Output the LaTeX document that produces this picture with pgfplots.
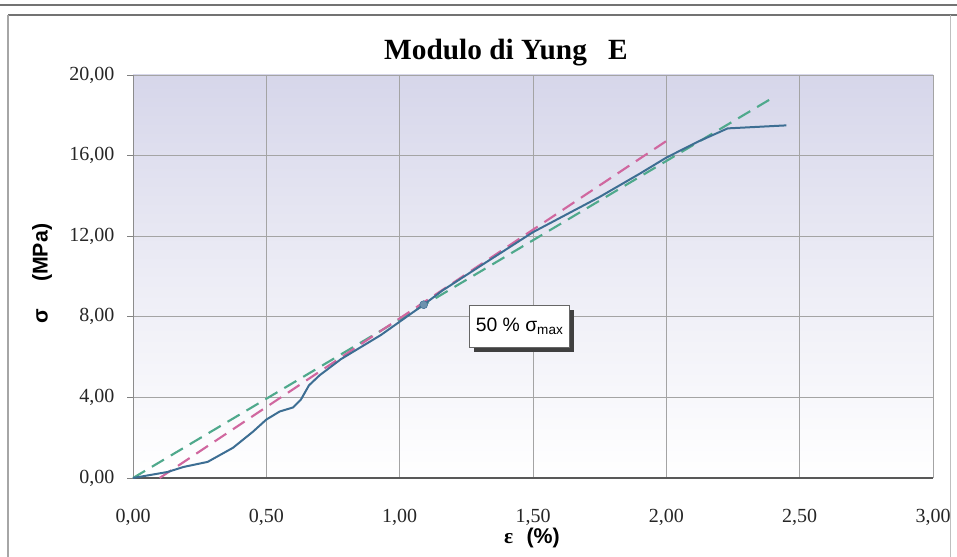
\documentclass[border=0pt]{standalone}
\usepackage{fontspec}
\setmainfont{Liberation Serif}
\newfontfamily\arial{Liberation Sans}
\usepackage{pgfplots}
\pgfplotsset{compat=1.18}
\usetikzlibrary{shadows}
\definecolor{curveblue}{HTML}{3D6E93}
\definecolor{dgreen}{HTML}{4FA98C}
\definecolor{dpink}{HTML}{D0679F}
\definecolor{bgtop}{HTML}{D6D6EA}
\definecolor{gridc}{HTML}{A4A4A4}
\begin{document}
\begin{tikzpicture}
\useasboundingbox (0,0) rectangle (717.75pt,417.75pt);
\fill[white] (0,0) rectangle (717.75pt,417.75pt);
\draw[black!55, line width=0.8pt] (0,414pt) -- (717.75pt,414pt);
\draw[black!55, line width=0.8pt] (6pt,406.5pt) -- (717.75pt,406.5pt);
\draw[black!35, line width=0.8pt] (6pt,406.5pt) -- (6pt,0);
\draw[black!25, line width=0.6pt] (712.5pt,406.5pt) -- (712.5pt,0);
\begin{axis}[
  at={(99.75pt,59.25pt)}, anchor=south west,
  scale only axis, width=600pt, height=302.25pt,
  xmin=0, xmax=3, ymin=0, ymax=20,
  xtick={0,0.5,1,1.5,2,2.5,3},
  ytick={0,4,8,12,16,20},
  grid=major,
  major grid style={gridc, line width=0.6pt},
  axis x line*=bottom, axis y line*=left,
  axis line style={-},
  x axis line style={black!65, line width=0.9pt},
  y axis line style={black!45, line width=0.7pt},
  tick align=outside,
  major tick length=4.5pt,
  xtick style={draw=none},
  ytick style={black!50, line width=0.6pt},
  ticklabel style={font=\fontsize{15}{18}\selectfont, text=black!85},
  /pgf/number format/assume math mode=true,
  /pgf/number format/.cd, fixed, fixed zerofill, precision=2, use comma,
  /pgfplots/.cd,
  xticklabel style={yshift=-15pt},
  yticklabel style={xshift=-6pt},
  axis background/.style={shade, top color=bgtop, bottom color=white, middle color=bgtop!45!white},
  clip=false,
]
\addplot[dgreen, line width=1.6pt, dash pattern=on 10.5pt off 6pt] coordinates {(0,0) (2.39,18.8)};
\addplot[dpink, line width=1.6pt, dash pattern=on 10.5pt off 6pt] coordinates {(0.10,0) (2.02,16.9)};
\addplot[curveblue, line width=1.5pt, line join=round] coordinates {
(0,0) (0.13,0.3) (0.19,0.55) (0.28,0.8) (0.375,1.5) (0.45,2.3) (0.50,2.9)
(0.55,3.3) (0.60,3.5) (0.63,3.9) (0.66,4.6) (0.70,5.1) (0.78,5.9) (0.93,7.1)
(1.09,8.6) (1.16,9.3) (1.30,10.5) (1.50,12.2) (1.75,13.95) (1.90,15.1) (2.00,15.9)
(2.12,16.7) (2.23,17.35) (2.45,17.5)};
\addplot[only marks, mark=*, mark size=3pt, mark options={fill=curveblue!75!white, draw=curveblue}] coordinates {(1.09,8.6)};
\node[draw=black!60, fill=white, font=\arial\fontsize{14.5}{17}\selectfont,
  drop shadow={shadow xshift=3.5pt, shadow yshift=-3.5pt, fill=black!75, opacity=1},
  inner sep=2pt, minimum width=75pt, minimum height=31.5pt] at (axis cs:1.45,7.52) {50 \% σ\textsubscript{max}};
\end{axis}
\node[font=\bfseries\fontsize{22}{26}\selectfont, anchor=base] at (379.5pt,372.75pt) {Modulo di Yung\hspace{16pt}E};
\node[rotate=90, font=\arial\bfseries\fontsize{16}{19}\selectfont] at (31.5pt,212.6pt) {σ\hspace{20pt}(MPa)};
\node[anchor=base, font=\fontsize{16}{19}\selectfont] at (399pt,10pt) {{\bfseries ε}\hspace{10pt}{\arial\bfseries (\%)}};
\end{tikzpicture}
\end{document}
